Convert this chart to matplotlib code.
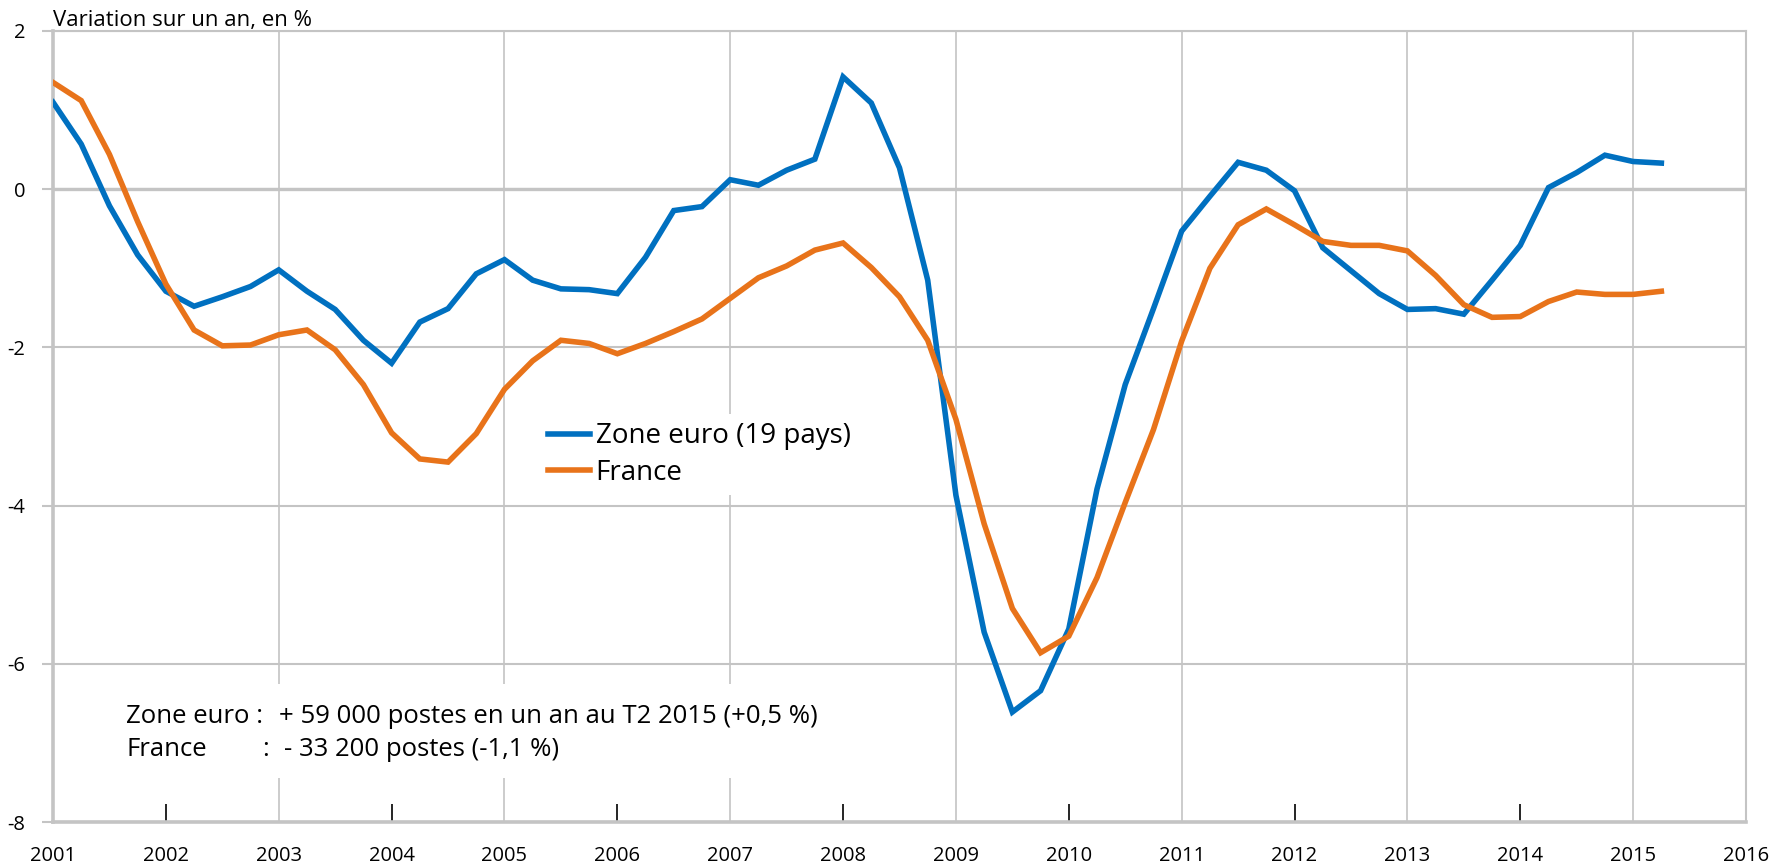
import numpy as np
import matplotlib
matplotlib.use("Agg")
import matplotlib.pyplot as plt
from matplotlib.patches import Rectangle

plt.rcParams['font.family'] = ['Open Sans', 'DejaVu Sans']

# Quarterly data, Q1 2001 .. Q2 2015
start_year = 2001
zone_euro = [1.10, 0.57, -0.21, -0.83, -1.29, -1.48, -1.36, -1.23,
             -1.02, -1.29, -1.52, -1.91, -2.20, -1.68, -1.51, -1.07,
             -0.89, -1.15, -1.26, -1.27, -1.32, -0.86, -0.27, -0.22,
             0.12, 0.05, 0.24, 0.38, 1.42, 1.09, 0.27, -1.15,
             -3.87, -5.60, -6.61, -6.34, -5.56, -3.79, -2.47, -1.51,
             -0.53, -0.09, 0.34, 0.24, -0.02, -0.74, -1.03, -1.32,
             -1.52, -1.51, -1.58, -1.15, -0.71, 0.02, 0.21, 0.43,
             0.35, 0.33]
france = [1.35, 1.12, 0.44, -0.41, -1.20, -1.78, -1.98, -1.97,
          -1.84, -1.78, -2.03, -2.47, -3.08, -3.41, -3.45, -3.09,
          -2.53, -2.17, -1.91, -1.95, -2.08, -1.95, -1.80, -1.64,
          -1.38, -1.12, -0.97, -0.77, -0.68, -0.99, -1.36, -1.91,
          -2.91, -4.23, -5.30, -5.86, -5.65, -4.91, -3.96, -3.04,
          -1.92, -1.00, -0.45, -0.25, -0.45, -0.66, -0.71, -0.71,
          -0.78, -1.09, -1.46, -1.62, -1.61, -1.42, -1.30, -1.33,
          -1.33, -1.29]
series_labels = ["Zone euro (19 pays)", "France"]
years = list(range(2001, 2017))
y_ticks = [2, 0, -2, -4, -6, -8]
y_title = "Variation sur un an, en %"
note_names = ["Zone euro :", "France"]
note_values = ["+ 59 000 postes en un an au T2 2015 (+0,5 %)",
               "- 33 200 postes (-1,1 %)"]

x = start_year + np.arange(len(zone_euro)) / 4.0

BLUE = '#0070c0'
ORANGE = '#e8731a'
GRID = '#c4c4c4'

fig = plt.figure(figsize=(17.85, 8.68), dpi=100)
ax = fig.add_axes([53 / 1785, 1 - 822 / 868, (1746 - 53) / 1785, (822 - 31) / 868])

ax.plot(x, zone_euro, color=BLUE, lw=4, label=series_labels[0], zorder=3,
        solid_joinstyle='miter')
ax.plot(x, france, color=ORANGE, lw=4, label=series_labels[1], zorder=3,
        solid_joinstyle='miter')

ax.set_xlim(years[0], years[-1])
ax.set_ylim(min(y_ticks), max(y_ticks))

# x ticks: gridlines at odd years (+ last), small black ticks at even years
major = [y for y in years if (y - years[0]) % 2 == 0] + [years[-1]]
minor = [y for y in years if (y - years[0]) % 2 == 1 and y != years[-1]]
ax.set_xticks(major)
ax.set_xticklabels([str(y) for y in major])
ax.set_xticks(minor, minor=True)
ax.set_xticklabels([str(y) for y in minor], minor=True)
ax.tick_params(axis='x', which='major', length=0, pad=17, labelsize=14.5)
ax.tick_params(axis='x', which='minor', length=13, width=1.2, color='black',
               direction='in', pad=17, labelsize=14.5)
ax.xaxis.grid(True, which='major', color=GRID, lw=1.2)
ax.xaxis.grid(False, which='minor')

ax.set_yticks(y_ticks)
ax.set_yticklabels([str(v) for v in y_ticks])
ax.tick_params(axis='y', length=8, width=1.5, color=GRID, pad=12, labelsize=14.5)
ax.yaxis.grid(True, color=GRID, lw=1.5)
ax.axhline(0, color=GRID, lw=2.4, zorder=1)
ax.set_axisbelow(True)

for side in ['left', 'bottom']:
    ax.spines[side].set_color(GRID)
    ax.spines[side].set_linewidth(2.6)
ax.spines['right'].set_color(GRID)
ax.spines['right'].set_linewidth(1.5)
ax.spines['top'].set_color(GRID)
ax.spines['top'].set_linewidth(1.5)

ax.text(0.0, 1.0, y_title, transform=ax.transAxes, ha='left', va='bottom',
        fontsize=16)

leg = ax.legend(loc='upper left', bbox_to_anchor=(540 / 1785, 1 - 414 / 868),
                bbox_transform=fig.transFigure, frameon=True, fontsize=20,
                handlelength=1.5, handletextpad=0.2, labelspacing=0.3,
                borderpad=0.3, borderaxespad=0)
leg.get_frame().set_facecolor('white')
leg.get_frame().set_edgecolor('none')
leg.get_frame().set_alpha(1)

# annotation with white background
fs = 18.5
box_x, box_y = 2001.65, -6.66
dy = 0.42
ax.text(box_x, box_y, note_names[0], fontsize=fs, va='center', ha='left',
        zorder=5)
ax.text(box_x, box_y - dy, note_names[1], fontsize=fs, va='center',
        ha='left', zorder=5)
ax.text(2002.85, box_y - dy, ":", fontsize=fs, va='center', ha='left',
        zorder=5)
ax.text(2003.0, box_y, note_values[0], fontsize=fs, va='center', ha='left',
        zorder=5)
ax.text(2003.05, box_y - dy, note_values[1], fontsize=fs, va='center',
        ha='left', zorder=5)
ax.add_patch(Rectangle((2001.55, -7.45), 6.2, 1.2, facecolor='white',
                       edgecolor='none', zorder=2))

fig.savefig("out.png", dpi=100)
